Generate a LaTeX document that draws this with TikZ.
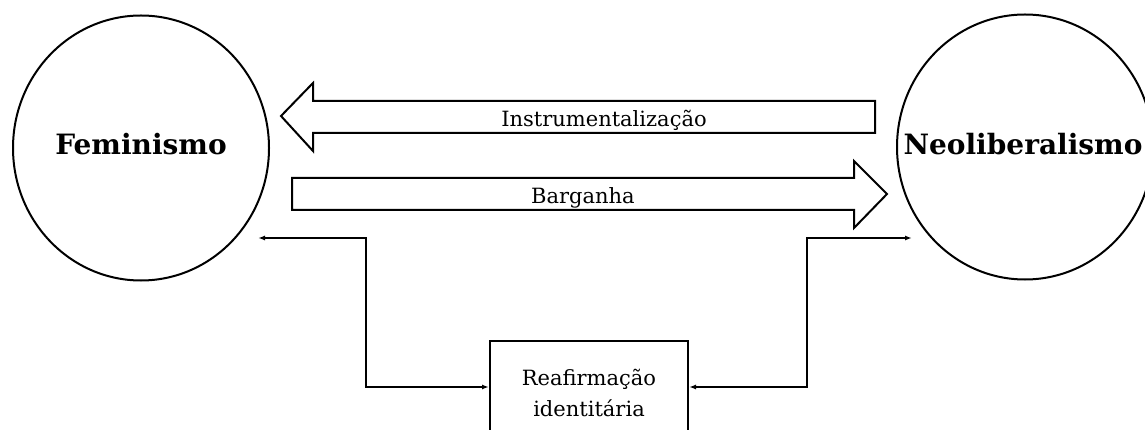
\documentclass[tikz,border=0pt]{standalone}
\usepackage{fontspec}
\setmainfont{DejaVu Serif}
\usetikzlibrary{arrows.meta,shapes.geometric}
\begin{document}
\begin{tikzpicture}[x=1pt,y=-1pt,
  line width=2pt,
  bigcircle/.style={draw, ellipse, minimum width=256, minimum height=265, inner sep=0},
  bigtext/.style={font=\fontsize{28}{33}\selectfont\bfseries, inner sep=0},
  lbl/.style={font=\fontsize{21}{24}\selectfont, inner sep=0, anchor=base},
  blockarrow/.style={draw, line join=miter},
  boxnode/.style={draw, minimum width=198, minimum height=104, inner sep=0, align=center,
    font=\fontsize{21}{31}\selectfont},
  conn2/.style={{Latex[length=7pt,width=5pt]}-{Latex[length=7pt,width=5pt]}, line width=2pt}]
\useasboundingbox (0,0) rectangle (1145,430);
\clip (0,0) rectangle (1145,430);

\node[bigcircle] (fem) at (141,148) {};
\node[bigtext] (femt) at (141,144) {Feminismo};
\node[bigcircle] (neo) at (1025,147) {};
\node[bigtext] (neot) at (1023,144) {Neoliberalismo};

% upper block arrow (pointing left)
\draw[blockarrow] (281,116) -- (313,83) -- (313,101) -- (875,101) -- (875,133) -- (313,133) -- (313,151) -- cycle;
\node[lbl] (instr) at (604,127) {Instrumentalização};

% lower block arrow (pointing right)
\draw[blockarrow] (292,178) -- (854,178) -- (854,161) -- (887,194) -- (854,228) -- (854,210) -- (292,210) -- cycle;
\node[lbl] (barg) at (583,204) {Barganha};

% box
\node[boxnode] (box) at (589,393) {Reafirmação\\identitária};

\coordinate (fl) at (258,238);
\coordinate (nr) at (912,238);

\draw[conn2] (fl) -| (366,387) -- (box.west |- 0,387);
\draw[conn2] (nr) -| (807,387) -- (box.east |- 0,387);
\end{tikzpicture}
\end{document}
